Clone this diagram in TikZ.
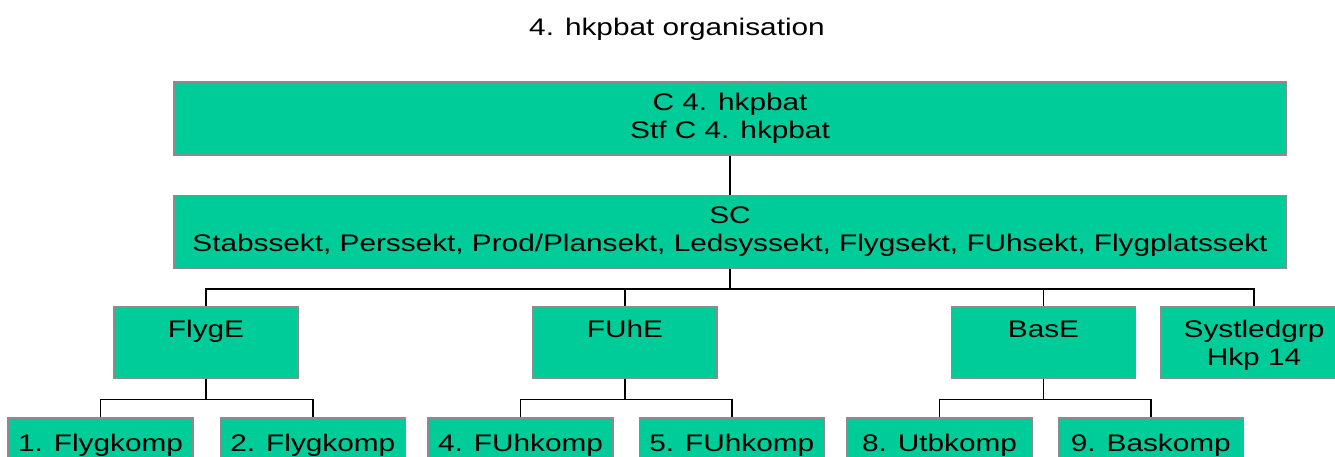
\documentclass[tikz,border=0pt]{standalone}
\usepackage{fontspec}
\setmainfont{Liberation Sans}[FakeStretch=1.24]
\usepackage{tikz}
\usetikzlibrary{positioning}
\definecolor{orggreen}{RGB}{0,204,153}
\definecolor{orgedge}{RGB}{140,140,140}

\begin{document}
\begin{tikzpicture}[
        x=1pt, y=-1pt,
        every node/.style={font=\fontsize{24}{28}\selectfont},
        unit/.style={rectangle, draw=orgedge, fill=orggreen, line width=1.3pt, inner sep=0pt},
        staff/.style={unit, align=center, minimum width=1112pt, minimum height=73pt},
        wing/.style={unit, align=center, minimum width=184pt, text height=30pt, text depth=41pt},
        komp/.style={unit, minimum width=185pt, text height=33pt, text depth=39pt},
        link/.style={draw=black, line width=1.6pt}
    ]
        \useasboundingbox[fill=white] (0,0) rectangle (1335,457);
        \clip (0,0) rectangle (1335,457);
        % Title
        \node (title) at (677,29) {4. hkpbat organisation};
        % Command and staff
        \node[staff] (chef) at (730,118.5) {C 4. hkpbat\\Stf C 4. hkpbat};
        \node[staff, below=39pt of chef] (sc) {SC\\Stabssekt, Perssekt, Prod/Plansekt, Ledsyssekt, Flygsekt, FUhsekt, Flygplatssekt};
        % Units
        \node[wing] (flyge) at (206,342.5) {FlygE};
        \node[wing] (fuhe) at (625,342.5) {FUhE};
        \node[wing] (base) at (1043.5,342.5) {BasE};
        \node[wing, minimum width=186pt, text height=58pt, text depth=13pt] (sysgrp) at (1254,342.5) {Systledgrp\\Hkp 14};
        % Companies
        \node[komp] (k1) at (100.5,454) {1. Flygkomp};
        \node[komp, right=26pt of k1] (k2) {2. Flygkomp};
        \node[komp] (k4) at (520.5,454) {4. FUhkomp};
        \node[komp, right=25pt of k4] (k5) {5. FUhkomp};
        \node[komp] (k8) at (939.5,454) {8. Utbkomp};
        \node[komp, right=25pt of k8] (k9) {9. Baskomp};
        % Edges: command to staff
        \draw[link] (chef) -- (sc);
        % Edges: staff to units
        \foreach \u in {flyge, fuhe, base, sysgrp}
            \draw[link] (sc.south) -- ++(0,20) -| (\u.north);
        % Edges: units to companies
        \foreach \u/\k in {flyge/k1, flyge/k2, fuhe/k4, fuhe/k5, base/k8, base/k9}
            \draw[link] (\u.south) -- ++(0,21) -| (\k.north);
    \end{tikzpicture}
\end{document}
